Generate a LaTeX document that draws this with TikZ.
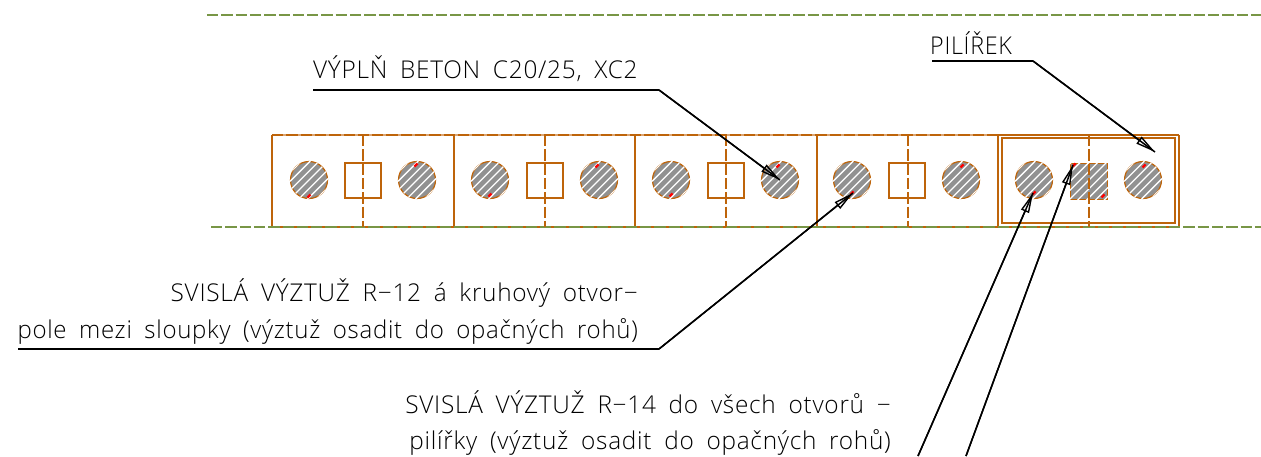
\documentclass[tikz,border=0pt]{standalone}
\usepackage{fontspec}
\setmainfont{Liberation Sans}
\newfontfamily\cadfont[LetterSpace=3,WordSpace=1.8]{Open Sans Light}
\usetikzlibrary{arrows.meta}
\definecolor{wall}{RGB}{190,100,10}
\definecolor{wallpale}{RGB}{218,165,115}
\definecolor{axisg}{RGB}{120,150,70}
\definecolor{hatchg}{RGB}{145,145,145}
\tikzset{
 wallline/.style={draw=wall,line width=1.6pt},
 walldash/.style={draw=wall,line width=1.6pt,dash pattern=on 11.3pt off 3pt},
 wallpaleline/.style={draw=wallpale,line width=1.6pt},
 axisline/.style={draw=axisg,line width=1.4pt,dash pattern=on 11.3pt off 3pt},
 leader/.style={draw=black,line width=1.5pt},
 leaderarrow/.style={leader,-{Stealth[length=20pt,width=8.5pt,open,inset=0pt,line width=1.4pt]},postaction={draw,arrows=-}},
 cadtext/.style={inner sep=0pt,font=\fontsize{24.5}{24.5}\selectfont\cadfont,text=black},
 holecirc/.style={circle,minimum size=37pt,inner sep=0pt,draw=wall,line width=1.2pt,fill=hatchg},
 hatchline/.style={white,line width=1.3pt},
 rebar/.style={draw=red,line width=2.4pt},
}
\newcommand{\holeat}[3]{%
 \node[holecirc] (#3) at (#1,#2) {};
 \begin{scope}
  \clip (#1,#2) circle (18.9);
  \foreach \d in {-26.4,-17.6,...,27}{
   \draw[hatchline] (#1+\d-20,#2+20) -- (#1+\d+20,#2-20);
  }
 \end{scope}}
\begin{document}
\begin{tikzpicture}[x=1pt,y=-1pt]
\useasboundingbox (0,0) rectangle (1261,456);
% wall top and bottom
\coordinate (wTa) at (272,135); \coordinate (wTb) at (1179,135);
\coordinate (wBa) at (272,227); \coordinate (wBb) at (1179,227);
\draw[wallpaleline] (wTa) -- (wTb);
\draw[walldash] (wTa) -- (wTb);
\draw[wallline] (wBa) -- (wBb);
% axes
\coordinate (axTa) at (207,15); \coordinate (axTb) at (1261,15);
\coordinate (axBa) at (211,227); \coordinate (axBb) at (1261,227);
\draw[axisline] (axTa) -- (axTb);
\draw[axisline] (axBa) -- (axBb);
% panel outlines
\foreach \x in {272,454,635,817,998,1179}{
 \draw[wallline] (\x,226) -- (\x,135);
}
\draw[wallline] (1002,138) rectangle (1175,223);
\draw[wallline] (998,135) -- (1179,135);
% holes
\foreach \x/\n in {309/a,417/b,490/c,599/d,671/e,780/f,852/g,961/h,1034/i,1143/j}{
 \holeat{\x}{180}{h\n}
}
% squares
\foreach \x in {345,527,708,889}{
 \draw[wallline] (\x,163) rectangle (\x+36,198);
}
\fill[hatchg] (1070,163) rectangle (1107,199);
\draw[draw=wall,line width=1pt] (1070,163) rectangle (1107,199);
\begin{scope}
 \clip (1069,162) rectangle (1108,200);
 \foreach \d in {-35.2,-26.4,...,40}{
  \draw[hatchline] (1088+\d-24,181+24) -- (1088+\d+24,181-24);
 }
\end{scope}
% dashed centre lines
\foreach \x in {363,545,726,908,1089}{
 \draw[walldash] (\x,135) -- (\x,227);
}
% rebars
\foreach \x/\y in {309/196,416/165,490/195,597/166,671/195,778/166,852/193,962/166,1034/193,1144/166,1074/165,1103/196}{
 \draw[rebar] (\x-1.5,\y+1.5) -- (\x+1.5,\y-1.5);
}
% targets
\coordinate (tFill) at (780,180);
\coordinate (tR12) at (853,193);
\coordinate (tPil) at (1155,152);
\coordinate (tR14a) at (1033,193);
\coordinate (tR14b) at (1073,165);
\coordinate (l1a) at (313,90); \coordinate (l1b) at (659,90);
\coordinate (l2a) at (18,349); \coordinate (l2b) at (659,349);
\coordinate (l3a) at (932,61); \coordinate (l3b) at (1033,61);
\coordinate (l4a) at (918,456); \coordinate (l4b) at (966,456);
\draw[leader] (l1a) -- (l1b);
\draw[leaderarrow] (l1b) -- (tFill);
\draw[leader] (l2a) -- (l2b);
\draw[leaderarrow] (l2b) -- (tR12);
\draw[leader] (l3a) -- (l3b);
\draw[leaderarrow] (l3b) -- (tPil);
\draw[leaderarrow] (l4a) -- (tR14a);
\draw[leaderarrow] (l4b) -- (tR14b);
% texts
\node[cadtext,anchor=base west] (t1) at (313,78) {\scalebox{0.995}[1]{VÝPLŇ BETON C20/25, XC2}};
\node[cadtext,anchor=base west] (t2) at (930,54) {\scalebox{0.95}[1]{PILÍŘEK}};
\node[cadtext,anchor=base east] (t3) at (638,301) {\scalebox{0.995}[1]{SVISLÁ VÝZTUŽ R−12 á kruhový otvor−}};
\node[cadtext,anchor=base east] (t4) at (638,338) {\scalebox{0.98}[1]{pole mezi sloupky (výztuž osadit do opačných rohů)}};
\node[cadtext,anchor=base east] (t5) at (891,413) {\scalebox{0.996}[1]{SVISLÁ VÝZTUŽ R−14 do všech otvorů −}};
\node[cadtext,anchor=base east] (t6) at (891,449) {\scalebox{0.995}[1]{pilířky (výztuž osadit do opačných rohů)}};
\end{tikzpicture}
\end{document}
